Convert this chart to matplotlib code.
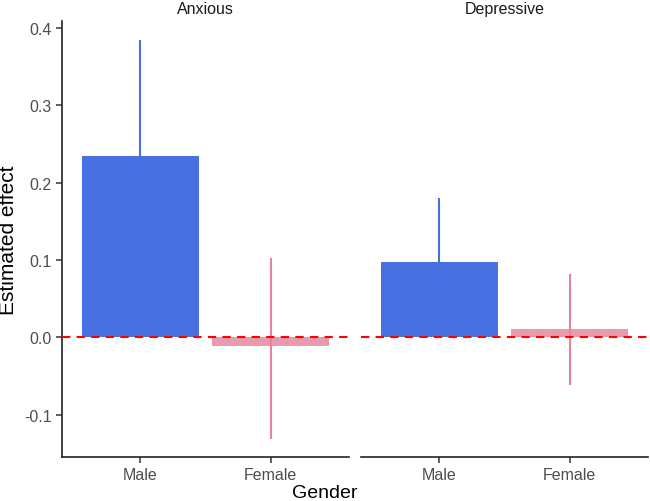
import matplotlib.pyplot as plt

panels = ["Anxious", "Depressive"]
genders = ["Male", "Female"]
effects = {"Anxious": [0.235, -0.011], "Depressive": [0.097, 0.010]}
ci_low = {"Anxious": [0.087, -0.130], "Depressive": [0.015, -0.060]}
ci_high = {"Anxious": [0.383, 0.101], "Depressive": [0.179, 0.080]}
y_ticks = [-0.1, 0.0, 0.1, 0.2, 0.3, 0.4]

bar_colors = ["#4870E1", "#E99AAE"]
err_colors = ["#4870E1", "#E8839E"]

plt.rcParams['font.family'] = ['Liberation Sans', 'DejaVu Sans']

fig = plt.figure(figsize=(6.5, 5.02), dpi=100)
axes = [fig.add_axes([0.0954, 0.0876, 0.4415, 0.8685]),
        fig.add_axes([0.5554, 0.0876, 0.4415, 0.8685])]

x = list(range(len(genders)))
for ax, name in zip(axes, panels):
    ax.bar(x, effects[name], width=0.9, color=bar_colors, zorder=2)
    for i in x:
        ax.plot([i, i], [ci_low[name][i], ci_high[name][i]],
                color=err_colors[i], lw=1.5, zorder=3)
    ax.axhline(0, color="red", ls=(0, (4, 3)), lw=1.5, zorder=4)
    ax.set_xlim(-0.6, 1.6)
    ax.set_ylim(-0.155, 0.409)
    ax.set_xticks(x)
    ax.set_xticklabels(genders)
    ax.set_title(name, fontsize=11.5, color="#1A1A1A", pad=6)
    for s in ["top", "right"]:
        ax.spines[s].set_visible(False)
    ax.spines["bottom"].set_color("#222222")
    ax.spines["bottom"].set_linewidth(1.2)
    ax.tick_params(axis="both", labelsize=11.5, labelcolor="#4D4D4D",
                   color="#333333", length=4, width=1.1)

axes[0].set_yticks(y_ticks)
axes[0].set_yticklabels([f"{v:.1f}" for v in y_ticks])
axes[0].spines["left"].set_color("#222222")
axes[0].spines["left"].set_linewidth(1.2)
axes[0].set_ylabel("Estimated effect", fontsize=15, labelpad=4)

axes[1].spines["left"].set_visible(False)
axes[1].tick_params(axis="y", left=False, labelleft=False)

fig.text(0.5, 0.0, "Gender", ha="center", va="bottom", fontsize=14)

fig.savefig("out.png", dpi=100)
